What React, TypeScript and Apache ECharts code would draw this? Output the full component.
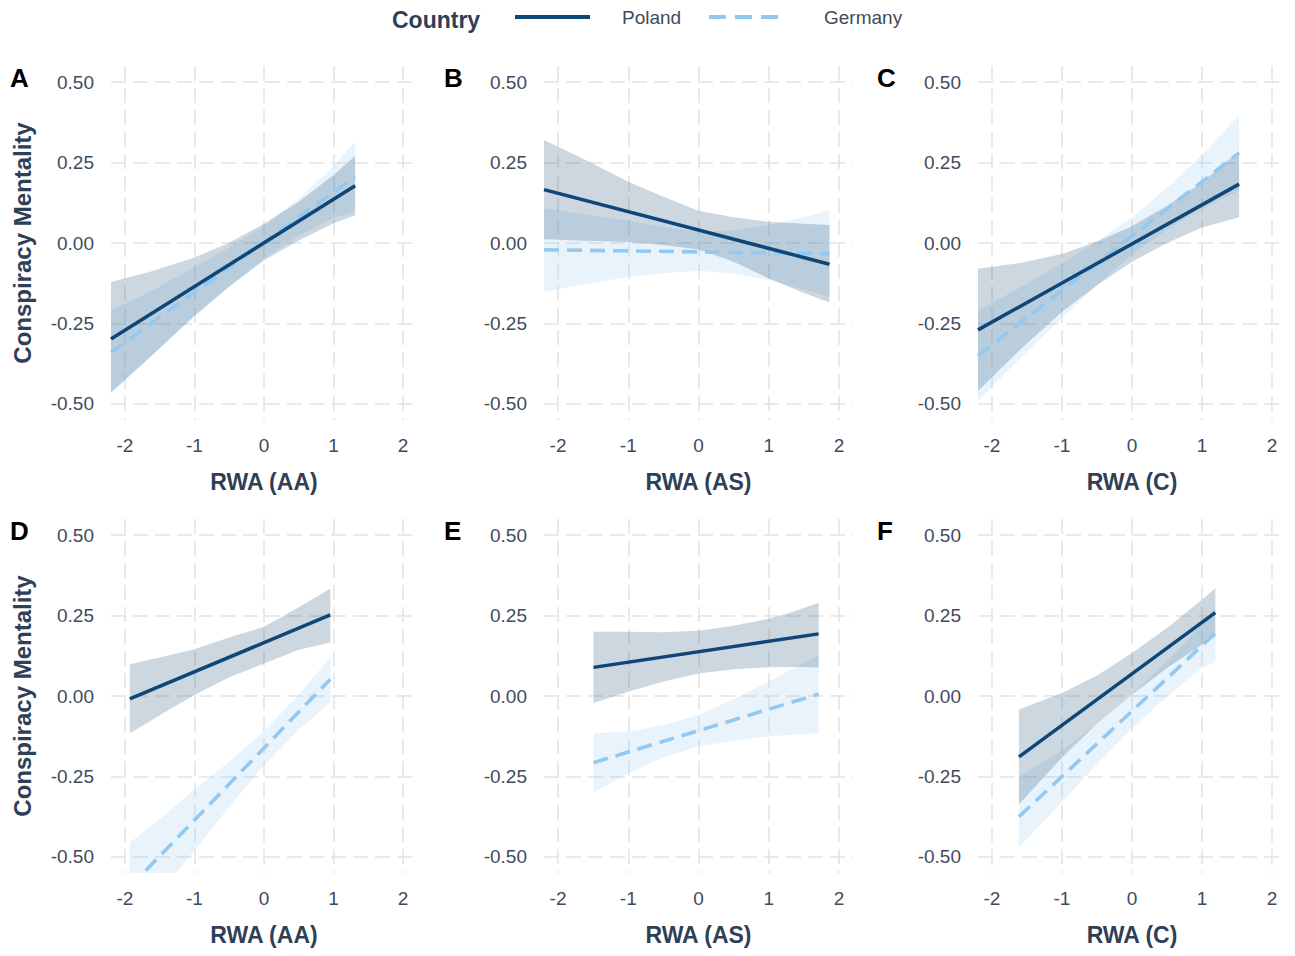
import React, { useEffect, useRef } from "react";
import * as echarts from "echarts";

// ---------- data ----------
const panelLetters = ["A", "B", "C", "D", "E", "F"];
const xTitles = ["RWA (AA)", "RWA (AS)", "RWA (C)", "RWA (AA)", "RWA (AS)", "RWA (C)"];
const yTitle = "Conspiracy Mentality";
const legendTitle = "Country";
const countries = ["Poland", "Germany"];
const xTicks = [-2, -1, 0, 1, 2];
const yTicks = [-0.5, -0.25, 0, 0.25, 0.5];

// lines: [x, y]; bands: [x, lower, upper]
const polandLineA = [[-2.2, -0.298], [1.31, 0.178]];
const germanyLineA = [[-2.2, -0.34], [1.31, 0.206]];
const polandBandA = [[-2.2, -0.464, -0.121], [-1.6, -0.347, -0.087], [-1, -0.225, -0.045], [-0.5, -0.135, 0.001], [0, -0.054, 0.06], [0.5, 0.008, 0.128], [1, 0.061, 0.211], [1.31, 0.086, 0.27]];
const germanyBandA = [[-2.2, -0.47, -0.21], [-1.6, -0.347, -0.147], [-1, -0.231, -0.075], [-0.5, -0.137, -0.013], [0, -0.048, 0.052], [0.5, 0.022, 0.138], [1, 0.078, 0.238], [1.31, 0.096, 0.316]];

const polandLineB = [[-2.2, 0.166], [1.865, -0.066]];
const germanyLineB = [[-2.2, -0.021], [1.865, -0.033]];
const polandBandB = [[-2.2, 0.012, 0.32], [-1.6, 0.007, 0.257], [-1, 0.003, 0.19], [-0.5, -0.006, 0.144], [0, -0.02, 0.1], [0.5, -0.058, 0.08], [1, -0.11, 0.066], [1.5, -0.155, 0.06], [1.865, -0.185, 0.056]];
const germanyBandB = [[-2.2, -0.151, 0.108], [-1.6, -0.128, 0.088], [-1, -0.105, 0.07], [-0.5, -0.094, 0.05], [0, -0.086, 0.035], [0.5, -0.095, 0.04], [1, -0.115, 0.055], [1.5, -0.145, 0.08], [1.865, -0.168, 0.102]];

const polandLineC = [[-2.2, -0.27], [1.53, 0.183]];
const germanyLineC = [[-2.2, -0.35], [1.53, 0.28]];
const polandBandC = [[-2.2, -0.46, -0.08], [-1.6, -0.332, -0.062], [-1, -0.214, -0.034], [-0.5, -0.131, 0.005], [0, -0.058, 0.052], [0.5, 0.0, 0.116], [1, 0.048, 0.188], [1.53, 0.08, 0.286]];
const germanyBandC = [[-2.2, -0.49, -0.21], [-1.6, -0.359, -0.139], [-1, -0.232, -0.062], [-0.5, -0.131, 0.005], [0, -0.036, 0.08], [0.5, 0.041, 0.171], [1, 0.107, 0.273], [1.53, 0.162, 0.398]];

const polandLineD = [[-1.93, -0.009], [0.953, 0.252]];
const germanyLineD = [[-1.93, -0.594], [0.953, 0.052]];
const polandBandD = [[-1.93, -0.116, 0.099], [-1.5, -0.06, 0.12], [-1, 0.003, 0.145], [-0.5, 0.058, 0.182], [0, 0.101, 0.215], [0.5, 0.144, 0.276], [0.953, 0.166, 0.334]];
const germanyBandD = [[-1.93, -0.73, -0.456], [-1.5, -0.613, -0.383], [-1, -0.48, -0.29], [-0.5, -0.344, -0.204], [0, -0.215, -0.11], [0.5, -0.105, 0.005], [0.953, -0.021, 0.12]];

const polandLineE = [[-1.495, 0.089], [1.71, 0.193]];
const germanyLineE = [[-1.495, -0.207], [1.71, 0.006]];
const polandBandE = [[-1.495, -0.022, 0.2], [-1, 0.013, 0.2], [-0.5, 0.045, 0.198], [0, 0.07, 0.203], [0.5, 0.083, 0.218], [1, 0.089, 0.24], [1.35, 0.09, 0.262], [1.71, 0.089, 0.29]];
const germanyBandE = [[-1.495, -0.3, -0.116], [-1, -0.24, -0.111], [-0.5, -0.19, -0.09], [0, -0.157, -0.059], [0.5, -0.138, -0.01], [1, -0.126, 0.045], [1.35, -0.12, 0.085], [1.71, -0.116, 0.127]];

const polandLineF = [[-1.615, -0.189], [1.19, 0.259]];
const germanyLineF = [[-1.615, -0.375], [1.19, 0.195]];
const polandBandF = [[-1.615, -0.336, -0.042], [-1, -0.191, 0.009], [-0.5, -0.086, 0.064], [0, 0.004, 0.134], [0.5, 0.087, 0.211], [1, 0.159, 0.299], [1.19, 0.184, 0.335]];
const germanyBandF = [[-1.615, -0.47, -0.25], [-1, -0.33, -0.17], [-0.5, -0.211, -0.087], [0, -0.101, 0.005], [0.5, -0.001, 0.109], [1, 0.087, 0.223], [1.19, 0.105, 0.28]];

const polandLines = [polandLineA, polandLineB, polandLineC, polandLineD, polandLineE, polandLineF];
const germanyLines = [germanyLineA, germanyLineB, germanyLineC, germanyLineD, germanyLineE, germanyLineF];
const polandBands = [polandBandA, polandBandB, polandBandC, polandBandD, polandBandE, polandBandF];
const germanyBands = [germanyBandA, germanyBandB, germanyBandC, germanyBandD, germanyBandE, germanyBandF];

// ---------- style ----------
const FONT = "'Liberation Sans', Arial, Helvetica, sans-serif";
const POLAND = "#0D4677";
const GERMANY = "#92C9F2";
const POLAND_FILL = "rgba(24, 72, 114, 0.22)";
const GERMANY_FILL = "rgba(150, 200, 243, 0.22)";
const TICK_COLOR = "#3F4B5C";
const TITLE_COLOR = "#2F3F56";
const GRID_COLOR = "#E4E4E4";

const colLeft = [111, 544, 978];
const colWidth = [306, 309, 308];
const rowTop = [66, 519];
const plotHeight = 354;

function bandSeries(band: number[][], idx: number, fill: string, name: string) {
  return {
    type: "custom",
    name,
    xAxisIndex: idx,
    yAxisIndex: idx,
    data: band,
    clip: true,
    silent: true,
    z: 1,
    encode: { x: 0, y: [1, 2] },
    renderItem: (params: any, api: any) => {
      if (params.dataIndex !== 0) return null;
      const upper = band.map((p) => api.coord([p[0], p[2]]));
      const lower = band.map((p) => api.coord([p[0], p[1]])).reverse();
      return {
        type: "polygon",
        shape: { points: upper.concat(lower), smooth: 0 },
        style: { fill, stroke: "none" },
      };
    },
  };
}

export default function App() {
  const ref = useRef<HTMLDivElement>(null);
  useEffect(() => {
    if (!ref.current) return;
    const chart = echarts.init(ref.current, undefined, { renderer: "svg" });

    const grids: any[] = [];
    const xAxes: any[] = [];
    const yAxes: any[] = [];
    const series: any[] = [];
    const graphics: any[] = [];

    for (let i = 0; i < 6; i++) {
      const r = Math.floor(i / 3);
      const c = i % 3;
      grids.push({ left: colLeft[c], top: rowTop[r], width: colWidth[c], height: plotHeight });
      xAxes.push({
        type: "value",
        gridIndex: i,
        min: -2.2,
        max: 2.2,
        axisLine: { show: false },
        axisTick: { show: false, customValues: xTicks },
        axisLabel: {
          customValues: xTicks,
          fontSize: 19,
          color: TICK_COLOR,
          fontFamily: FONT,
          margin: 16,
          formatter: (v: number) => String(v),
        },
        splitLine: { show: true, lineStyle: { type: [15, 7], color: GRID_COLOR, width: 1.6 } },
        name: xTitles[i],
        nameLocation: "middle",
        nameGap: 50,
        nameTextStyle: { fontSize: 23, fontWeight: "bold", color: TITLE_COLOR, fontFamily: FONT },
      });
      yAxes.push({
        type: "value",
        gridIndex: i,
        min: -0.55,
        max: 0.55,
        axisLine: { show: false },
        axisTick: { show: false, customValues: yTicks },
        axisLabel: {
          customValues: yTicks,
          fontSize: 19,
          color: TICK_COLOR,
          fontFamily: FONT,
          margin: 17,
          formatter: (v: number) => v.toFixed(2),
        },
        splitLine: { show: true, lineStyle: { type: [15, 7], color: GRID_COLOR, width: 1.6 } },
        name: c === 0 ? yTitle : "",
        nameLocation: "middle",
        nameRotate: 90,
        nameGap: 77,
        nameTextStyle: { fontSize: 24, fontWeight: "bold", color: TITLE_COLOR, fontFamily: FONT },
      });

      series.push(bandSeries(germanyBands[i], i, GERMANY_FILL, countries[1]));
      series.push(bandSeries(polandBands[i], i, POLAND_FILL, countries[0]));
      series.push({
        type: "line",
        name: countries[1],
        xAxisIndex: i,
        yAxisIndex: i,
        data: germanyLines[i],
        symbol: "none",
        z: 3,
        lineStyle: { color: GERMANY, width: 3.6, type: [15, 8] },
      });
      series.push({
        type: "line",
        name: countries[0],
        xAxisIndex: i,
        yAxisIndex: i,
        data: polandLines[i],
        symbol: "none",
        z: 4,
        lineStyle: { color: POLAND, width: 3.5 },
      });

      const letterX = [10, 444, 877][c];
      const letterY = [78, 531][r];
      graphics.push({
        type: "text",
        x: letterX,
        y: letterY,
        style: {
          text: panelLetters[i],
          font: `bold 26px ${FONT}`,
          fill: "#000000",
          verticalAlign: "middle",
        },
      });
    }

    // legend
    graphics.push({
      type: "text",
      x: 392,
      y: 20,
      style: { text: legendTitle, font: `bold 23px ${FONT}`, fill: TITLE_COLOR, verticalAlign: "middle" },
    });
    graphics.push({
      type: "line",
      shape: { x1: 515, y1: 17, x2: 590, y2: 17 },
      style: { stroke: POLAND, lineWidth: 3.8 },
    });
    graphics.push({
      type: "text",
      x: 622,
      y: 17,
      style: { text: countries[0], font: `19px ${FONT}`, fill: TICK_COLOR, verticalAlign: "middle" },
    });
    graphics.push({
      type: "line",
      shape: { x1: 709, y1: 17, x2: 785, y2: 17 },
      style: { stroke: GERMANY, lineWidth: 3.8, lineDash: [17, 9] },
    });
    graphics.push({
      type: "text",
      x: 824,
      y: 17,
      style: { text: countries[1], font: `19px ${FONT}`, fill: TICK_COLOR, verticalAlign: "middle" },
    });

    chart.setOption({
      animation: false,
      backgroundColor: "#ffffff",
      textStyle: { fontFamily: FONT },
      grid: grids,
      xAxis: xAxes,
      yAxis: yAxes,
      series,
      graphic: graphics,
    });
    return () => chart.dispose();
  }, []);
  return (
    <div
      ref={ref}
      style={{ width: 1295, height: 956, position: "absolute", left: 0, top: 0 }}
    />
  );
}
